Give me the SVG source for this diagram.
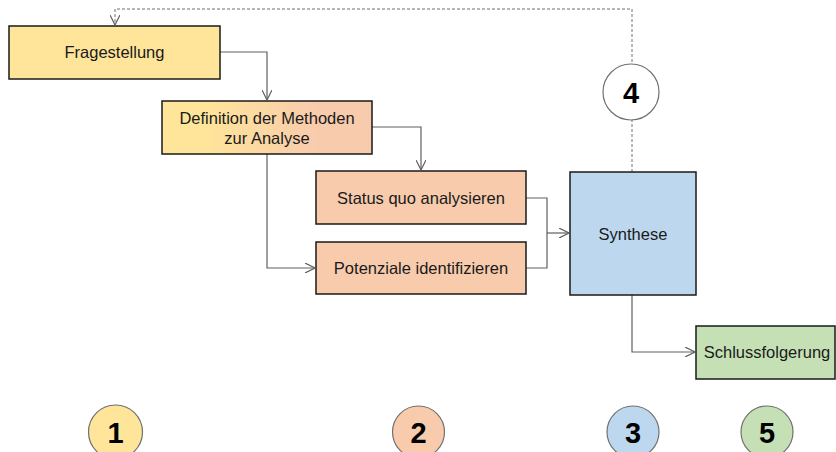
<svg xmlns="http://www.w3.org/2000/svg" width="836" height="452" viewBox="0 0 836 452">
  <style>
    .box { stroke: #1a1a1a; stroke-width: 1.5; }
    .lbl { font-family: "Liberation Sans", Arial, sans-serif; font-size: 16.5px; fill: #1a1a1a; text-anchor: middle; }
    .num { font-family: "Liberation Sans", Arial, sans-serif; font-size: 29px; font-weight: bold; fill: #000; text-anchor: middle; }
    .badge { stroke: #707070; stroke-width: 1.2; }
    .conn { fill: none; stroke: #606060; stroke-width: 1.2; }
    .dash { fill: none; stroke: #707070; stroke-width: 1; stroke-dasharray: 3 2; }
  </style>
  <defs>
    <linearGradient id="yellowToOrange" x1="0" y1="0" x2="1" y2="0">
      <stop offset="0.2" stop-color="#FFE599"/>
      <stop offset="0.75" stop-color="#F8CBAD"/>
    </linearGradient>
    <marker id="arrow" viewBox="0 0 10 10" refX="10" refY="5" markerWidth="10" markerHeight="10" markerUnits="userSpaceOnUse" orient="auto">
      <path d="M0,0 L10,5 L0,10" fill="none" stroke="#606060" stroke-width="1.2"/>
    </marker>
  </defs>

  <!-- connectors -->
  <g id="connectors">
    <path class="dash" d="M632,172 V9 H115 V25" marker-end="url(#arrow)"/>
    <path class="conn" d="M220,52 H267 V100" marker-end="url(#arrow)"/>
    <path class="conn" d="M372,127 H421 V170" marker-end="url(#arrow)"/>
    <path class="conn" d="M267,154 V268 H315" marker-end="url(#arrow)"/>
    <path class="conn" d="M526,198 H547 V268 H526"/>
    <path class="conn" d="M547,233 H569" marker-end="url(#arrow)"/>
    <path class="conn" d="M632,295 V352 H695" marker-end="url(#arrow)"/>
  </g>

  <g id="fragestellung">
    <rect class="box" x="9" y="26" width="211" height="53" fill="#FFE599"/>
    <text class="lbl" x="114.5" y="58">Fragestellung</text>
  </g>

  <g id="definition">
    <rect class="box" x="162" y="101" width="210" height="53" fill="url(#yellowToOrange)"/>
    <text class="lbl" x="267" y="124">Definition der Methoden</text>
    <text class="lbl" x="267" y="144">zur Analyse</text>
  </g>

  <g id="status-quo">
    <rect class="box" x="316" y="171" width="210" height="53" fill="#F8CBAD"/>
    <text class="lbl" x="421" y="204">Status quo analysieren</text>
  </g>

  <g id="potenziale">
    <rect class="box" x="316" y="242" width="210" height="52" fill="#F8CBAD"/>
    <text class="lbl" x="421" y="274">Potenziale identifizieren</text>
  </g>

  <g id="synthese">
    <rect class="box" x="570" y="172" width="126" height="123" fill="#BDD7EE"/>
    <text class="lbl" x="633" y="240">Synthese</text>
  </g>

  <g id="schlussfolgerung">
    <rect class="box" x="696" y="326" width="139" height="53" fill="#C5E0B4"/>
    <text class="lbl" x="767" y="358">Schlussfolgerung</text>
  </g>

  <g id="badge-4">
    <circle class="badge" cx="631" cy="92" r="28" fill="#FFFFFF" stroke="#555"/>
    <text class="num" x="631" y="103">4</text>
  </g>

  <g id="badge-1">
    <circle class="badge" cx="115.5" cy="432" r="27" fill="#FFE599"/>
    <text class="num" x="115.5" y="443">1</text>
  </g>
  <g id="badge-2">
    <circle class="badge" cx="418.5" cy="432" r="26" fill="#F8CBAD"/>
    <text class="num" x="418.5" y="443">2</text>
  </g>
  <g id="badge-3">
    <circle class="badge" cx="633" cy="432" r="26" fill="#BDD7EE"/>
    <text class="num" x="633" y="443">3</text>
  </g>
  <g id="badge-5">
    <circle class="badge" cx="767" cy="432" r="26" fill="#C5E0B4"/>
    <text class="num" x="767" y="443">5</text>
  </g>
</svg>
